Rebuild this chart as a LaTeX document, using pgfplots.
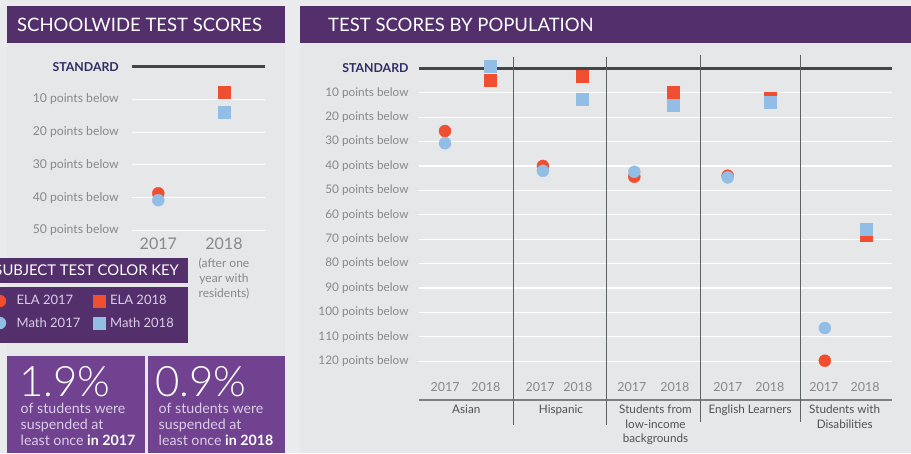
\documentclass[border=0pt]{standalone}
\usepackage{fontspec}
\setmainfont{Lato}
\newfontfamily\latolight{Lato Light}
\usepackage{pgfplots}
\pgfplotsset{compat=1.18}
\definecolor{bg}{HTML}{EAEBEC}
\definecolor{panel}{HTML}{E6E7E8}
\definecolor{hdr}{HTML}{53306B}
\definecolor{stat}{HTML}{70428F}
\definecolor{ela}{HTML}{F04E30}
\definecolor{math}{HTML}{92BDE4}
\definecolor{navy}{HTML}{2E2D64}
\definecolor{tickgray}{HTML}{888888}
\definecolor{stdline}{HTML}{444546}
\definecolor{sepline}{HTML}{5C6263}
\definecolor{catgray}{HTML}{505254}
\definecolor{lav}{HTML}{DCCDE8}
\definecolor{axgray}{HTML}{7B8183}

\pgfplotsset{
  elamark17/.style={only marks, mark=*, mark size=6pt, color=ela, mark options={draw=none, fill=ela},
    legend image code/.code={\path[draw=none,fill=none] (0pt,0pt) rectangle (18pt,0.1pt); \draw[##1] plot coordinates {(6pt,0pt)};}},
  mathmark17/.style={only marks, mark=*, mark size=6pt, color=math, mark options={draw=none, fill=math},
    legend image code/.code={\path[draw=none,fill=none] (0pt,0pt) rectangle (18pt,0.1pt); \draw[##1] plot coordinates {(6pt,0pt)};}},
  elamark18/.style={only marks, mark=square*, mark size=6pt, color=ela, mark options={draw=none, fill=ela},
    legend image code/.code={\draw[##1] plot coordinates {(6pt,0pt)};}},
  mathmark18/.style={only marks, mark=square*, mark size=6pt, color=math, mark options={draw=none, fill=math},
    legend image code/.code={\draw[##1] plot coordinates {(6pt,0pt)};}},
}
\tikzset{catlab/.style={anchor=north, align=center, inner sep=0pt, text=catgray, font=\fontsize{11.7}{14.8}\selectfont, yshift=-4.5pt},
  statbig/.style={anchor=base west, text=white, inner sep=0pt, font=\latolight\fontsize{42}{42}\selectfont},
  statsmall/.style={anchor=base west, text=lav, inner sep=0pt, font=\fontsize{14.2}{16}\selectfont}}

\begin{document}
\begin{tikzpicture}[x=1pt,y=-1pt]
\path[use as bounding box, fill=bg] (0,0) rectangle (911,453);
% panels
\fill[panel] (7,43) rectangle (285,453);
\fill[panel] (300,43) rectangle (911,453);
\fill[hdr] (7,6) rectangle (285,43);
\fill[hdr] (300,6) rectangle (911,43);
\node[anchor=west, text=white, inner sep=0pt, font=\fontsize{18.5}{20}\selectfont] at (17,25) {SCHOOLWIDE TEST SCORES};
\node[anchor=west, text=white, inner sep=0pt, font=\fontsize{18.5}{20}\selectfont] at (328,25) {TEST SCORES BY POPULATION};
% legend boxes
\fill[hdr] (0,258) rectangle (188,283);
\node[anchor=east, text=white, inner sep=0pt, font=\fontsize{14.8}{17}\selectfont] at (179,270.5) {SUBJECT TEST COLOR KEY};
\fill[hdr] (0,287) rectangle (188,343);
% stat boxes
\fill[stat] (7,356) rectangle (145,453);
\fill[stat] (148,356) rectangle (285,453);
\node[statbig] at (19,396.5) {1.9\%};
\node[statbig] at (155,396.5) {0.9\%};
\node[statsmall] at (20.5,413.5) {of students were};
\node[statsmall] at (20.5,429.5) {suspended at};
\node[statsmall] at (20.5,445.2) {least once \textcolor{white}{\bfseries in 2017}};
\node[statsmall] at (158.5,413.5) {of students were};
\node[statsmall] at (158.5,429.5) {suspended at};
\node[statsmall] at (158.5,445.2) {least once \textcolor{white}{\bfseries in 2018}};

% ---------- left chart ----------
\begin{axis}[
  at={(132pt,-230.3pt)}, anchor=south west,
  scale only axis, width=133pt, height=173.4pt,
  xmin=0.6, xmax=2.624, ymin=-50, ymax=3,
  clip=false,
  axis line style={draw=none},
  major tick length=0pt, tick style={draw=none},
  ytick={-50,-40,-30,-20,-10,0},
  yticklabels={50 points below,40 points below,30 points below,20 points below,10 points below,{\color{navy}\bfseries\fontsize{12.3}{13}\selectfont STANDARD}},
  yticklabel style={anchor=east, inner sep=0pt, xshift=-13pt, text=tickgray, font=\fontsize{12.2}{14}\selectfont},
  xtick={1,2}, xticklabels={2017,2018},
  xticklabel style={anchor=north, inner sep=0pt, yshift=-7.7pt, text=tickgray, font=\fontsize{16}{18}\selectfont},
  ymajorgrids, grid style={white, line width=1.2pt},
  legend style={at={(axis description cs:0,0)}, anchor=north west, xshift=-138pt, yshift=-64.7pt,
    draw=none, fill=none, inner sep=0pt, outer sep=0pt,
    font=\fontsize{13}{15}\selectfont, text=lav, row sep=10pt,
    nodes={inner sep=0pt, anchor=west},
    /tikz/every odd column/.append style={column sep=4.7pt},
    /tikz/every even column/.append style={column sep=13.1pt}},
  legend columns=2, transpose legend, legend cell align=left,
]
\draw[stdline, line width=3pt] (axis cs:0.6,0) -- (axis cs:2.624,0);
\addplot+[elamark17] coordinates {(1,-38.7)};
\addlegendentry{ELA 2017}
\addplot+[mathmark17] coordinates {(1,-40.8)};
\addlegendentry{Math 2017}
\addplot+[elamark18] coordinates {(2,-7.75)};
\addlegendentry{ELA 2018}
\addplot+[mathmark18] coordinates {(2,-13.9)};
\addlegendentry{Math 2018}
\node[anchor=north, align=center, inner sep=0pt, text=tickgray, font=\fontsize{12}{14.8}\selectfont, yshift=-28pt] at (axis cs:2,-50) {(after one\\year with\\residents)};
\end{axis}

% ---------- right chart ----------
\begin{axis}[
  at={(419pt,-400pt)}, anchor=south west,
  scale only axis, width=473pt, height=343pt,
  xmin=0, xmax=5, ymin=-135.9, ymax=4.63,
  clip=false,
  axis line style={draw=none},
  major tick length=0pt, tick style={draw=none},
  ytick={-120,-110,-100,-90,-80,-70,-60,-50,-40,-30,-20,-10,0},
  yticklabels={120 points below,110 points below,100 points below,90 points below,80 points below,70 points below,60 points below,50 points below,40 points below,30 points below,20 points below,10 points below,{\color{navy}\bfseries\fontsize{12.3}{13}\selectfont STANDARD}},
  yticklabel style={anchor=east, inner sep=0pt, xshift=-10.3pt, text=tickgray, font=\fontsize{11.8}{14}\selectfont},
  xtick={0.275,0.708,1.28,1.68,2.25,2.706,3.266,3.71,4.28,4.715},
  xticklabels={2017,2018,2017,2018,2017,2018,2017,2018,2017,2018},
  xticklabel style={anchor=south, inner sep=0pt, yshift=7.8pt, text=tickgray, font=\fontsize{12.5}{14}\selectfont},
  ymajorgrids, grid style={white, line width=1.2pt},
]
\draw[stdline, line width=3pt] (axis cs:0,0) -- (axis cs:5,0);
\draw[axgray, line width=1.5pt] (axis cs:0,-135.9) -- (axis cs:5,-135.9);
\draw[sepline, line width=1pt] (axis cs:0.997,4.63) -- (axis cs:0.997,-146);
\draw[sepline, line width=1pt] (axis cs:1.98,4.63) -- (axis cs:1.98,-146);
\draw[sepline, line width=1pt] (axis cs:2.98,5.6) -- (axis cs:2.98,-145);
\draw[sepline, line width=1pt] (axis cs:4.03,5.6) -- (axis cs:4.03,-145);
\addplot+[elamark17] coordinates {(0.275,-25.7) (1.31,-40) (2.276,-44.4) (3.263,-44) (4.29,-119.8)};
\addplot+[mathmark17] coordinates {(0.275,-30.7) (1.31,-42) (2.276,-42.4) (3.263,-44.7) (4.29,-106.4)};
\addplot+[elamark18] coordinates {(0.75,-4.8) (1.72,-3.2) (2.685,-9.7) (3.71,-12.2) (4.73,-68.3)};
\addplot+[mathmark18] coordinates {(0.75,0.9) (1.72,-12.6) (2.685,-15) (3.71,-13.8) (4.73,-65.9)};
\node[catlab] at (axis cs:0.5,-135.9) {Asian};
\node[catlab] at (axis cs:1.5,-135.9) {Hispanic};
\node[catlab] at (axis cs:2.5,-135.9) {Students from\\low-income\\backgrounds};
\node[catlab] at (axis cs:3.5,-135.9) {English Learners};
\node[catlab] at (axis cs:4.5,-135.9) {Students with\\Disabilities};
\end{axis}
\end{tikzpicture}
\end{document}
